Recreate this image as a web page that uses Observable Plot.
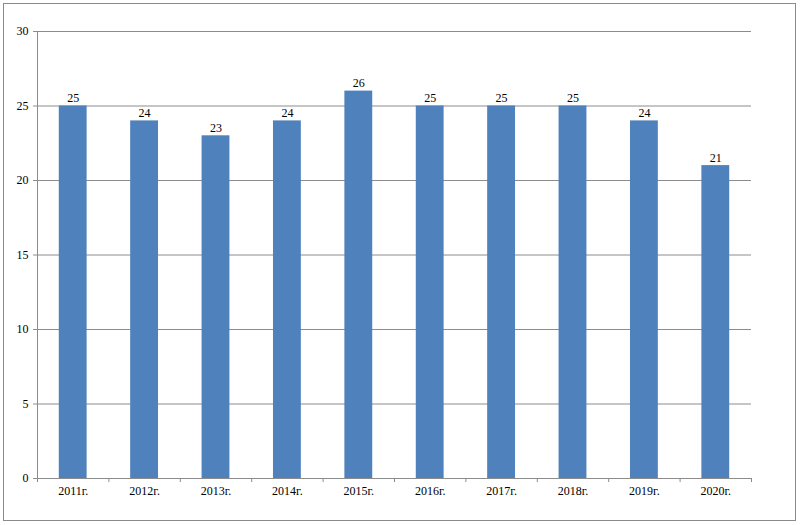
<!DOCTYPE html>
<html>
<head>
<meta charset="utf-8">
<script src="https://cdn.jsdelivr.net/npm/d3@7"></script>
<script src="https://cdn.jsdelivr.net/npm/@observablehq/plot@0.6"></script>
<style>
  html, body { margin: 0; padding: 0; background: #fff; }
  #wrap { position: relative; width: 801px; height: 525px; }
  #border { position: absolute; left: 3px; top: 3px; width: 793px; height: 518px; border: 1px solid #8a8a8a; box-sizing: border-box; pointer-events: none; }
</style>
</head>
<body>
<div id="wrap"><div id="border"></div></div>
<script>
const years = ["2011г.", "2012г.", "2013г.", "2014г.", "2015г.", "2016г.", "2017г.", "2018г.", "2019г.", "2020г."];
const values = [25, 24, 23, 24, 26, 25, 25, 25, 24, 21];
const yTicks = [0, 5, 10, 15, 20, 25, 30];

const data = years.map((y, i) => ({year: y, value: values[i]}));

const W = 801, H = 525, ML = 37, MR = 50, MT = 31, MB = 47;
const step = (W - ML - MR) / years.length;

const chart = Plot.plot({
  width: W,
  height: H,
  marginLeft: ML,
  marginRight: MR,
  marginTop: MT,
  marginBottom: MB,
  style: {fontFamily: "'Liberation Serif', 'Times New Roman', serif", fontSize: "12px", color: "#000", background: "transparent"},
  x: {domain: years, paddingInner: 0.61, paddingOuter: 0.305, round: false, label: null},
  y: {domain: [0, 30], label: null},
  marks: [
    Plot.ruleY(yTicks, {stroke: "#8c8c8c", strokeWidth: 1}),
    Plot.frame({anchor: "left", stroke: "#8c8c8c"}),
    Plot.barY(data, {x: "year", y: "value", fill: "#4f81bd"}),
    Plot.text(data, {x: "year", y: "value", text: d => String(d.value), lineAnchor: "bottom", dy: -4, fill: "#000"}),
    Plot.axisY({ticks: yTicks, tickSize: 4, tickPadding: 5, stroke: "#8c8c8c", label: null}),
    Plot.axisX({tickSize: 0, tickPadding: 8, label: null}),
    Plot.axisX({tickSize: 4, text: null, dx: -step / 2, stroke: "#8c8c8c", label: null}),
    Plot.axisX({ticks: [years[years.length - 1]], tickSize: 4, text: null, dx: step / 2, stroke: "#8c8c8c", label: null})
  ]
});
document.getElementById("wrap").appendChild(chart);
chart.style.position = "absolute";
chart.style.left = "0";
chart.style.top = "0";
</script>
</body>
</html>
